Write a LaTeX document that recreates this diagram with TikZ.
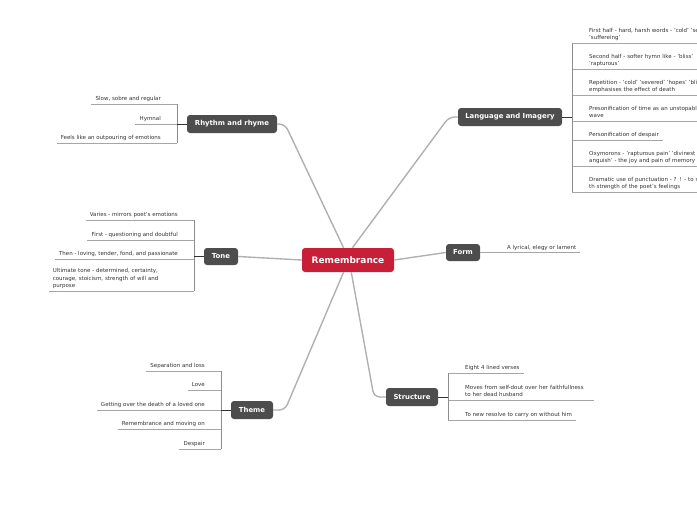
\documentclass[tikz,border=0pt]{standalone}
\usepackage{fontspec}
\setmainfont{DejaVu Sans}
\definecolor{remred}{HTML}{C71F37}
\definecolor{topicgray}{HTML}{4D4D4D}
\definecolor{leaftext}{HTML}{333333}
\definecolor{leafgray}{HTML}{A6A6A6}
\definecolor{brackgray}{HTML}{8C8C8C}
\definecolor{conngray}{HTML}{B0B0B0}
\begin{document}
\begin{tikzpicture}[x=1pt,y=-1pt,
  central/.style={fill=remred, rounded corners=3pt, text=white,
    font=\bfseries\fontsize{9}{10}\selectfont, minimum width=92pt, minimum height=24pt, inner sep=0pt},
  topic/.style={fill=topicgray, rounded corners=3pt, text=white,
    font=\bfseries\fontsize{6.9}{8}\selectfont, minimum height=18pt, inner sep=0pt},
  leaf/.style={text=leaftext, font=\fontsize{5.5}{7.5}\selectfont, inner xsep=4pt, inner ysep=0.9pt,
    execute at begin node=\strut, execute at end node=\strut},
  leafL/.style={leaf, anchor=south east, align=right},
  leafR/.style={leaf, anchor=south west, align=left},
  wide/.style={text width=125pt, align=left},
  wider/.style={text width=170pt, align=left},
  conn/.style={draw=conngray, line width=1.4pt, rounded corners=6pt},
  leafline/.style={draw=leafgray, line width=0.6pt},
  brack/.style={draw=brackgray, line width=0.6pt},
  stub/.style={draw=leaftext, line width=0.8pt}
]
\useasboundingbox (0,0) rectangle (697,520);
\clip (0,0) rectangle (697,520);

% central and topics
\node[central] (c) at (348,260) {Remembrance};
\node[topic, minimum width=90pt] (rr) at (232,124) {Rhythm and rhyme};
\node[topic, minimum width=104pt] (li) at (510,117) {Language and Imagery};
\node[topic, minimum width=34pt, minimum height=17pt] (to) at (221,256.5) {Tone};
\node[topic, minimum width=34pt, minimum height=17pt] (fm) at (463,252.5) {Form};
\node[topic, minimum width=42pt] (th) at (252,410) {Theme};
\node[topic, minimum width=52pt] (st) at (412,397) {Structure};

% main connectors
\draw[conn] (c.110) -- (285,124) -- (rr.east);
\draw[conn] (c.70) -- (449,117) -- (li.west);
\draw[conn] (c.west) -- (to.east);
\draw[conn] (c.east) -- (fm.west);
\draw[conn] (c.250) -- (285,410) -- (th.east);
\draw[conn] (c.285) -- (374,397) -- (st.west);

% ---- Rhythm and rhyme
\coordinate (rrb) at (177,124);
\node[leafL] (rr1) at (165,104) {Slow, sobre and regular};
\node[leafL] (rr2) at (165,124) {Hymnal};
\node[leafL] (rr3) at (165,143) {Feels like an outpouring of emotions};
\foreach \n in {rr1,rr2,rr3} \draw[leafline] (\n.south west) -- (\n.south west -| rrb);
\draw[brack] (rr1.south west -| rrb) -- (rr3.south west -| rrb);
\draw[stub] (rr.west) -- (rrb);

% ---- Tone
\coordinate (tob) at (194,256.5);
\node[leafL] (to1) at (182,220) {Varies - mirrors poet's emotions};
\node[leafL] (to2) at (182,240) {First - questioning and doubtful};
\node[leafL] (to3) at (182,259) {Then - loving, tender, fond, and passionate};
\node[leafL, wide] (to4) at (182,291) {Ultimate tone - determined, certainty,\\courage, stoicism, strength of will and\\purpose};
\foreach \n in {to1,to2,to3,to4} \draw[leafline] (\n.south west) -- (\n.south west -| tob);
\draw[brack] (to1.south west -| tob) -- (to4.south west -| tob);
\draw[stub] (to.west) -- (tob);

% ---- Theme
\coordinate (thb) at (221,410);
\node[leafL] (th1) at (209,371) {Separation and loss};
\node[leafL] (th2) at (209,390) {Love};
\node[leafL] (th3) at (209,410) {Getting over the death of a loved one};
\node[leafL] (th4) at (209,429) {Remembrance and moving on};
\node[leafL] (th5) at (209,449) {Despair};
\foreach \n in {th1,th2,th3,th4,th5} \draw[leafline] (\n.south west) -- (\n.south west -| thb);
\draw[brack] (th1.south west -| thb) -- (th5.south west -| thb);
\draw[stub] (th.west) -- (thb);

% ---- Structure
\coordinate (stb) at (448,397);
\node[leafR] (st1) at (461,373) {Eight 4 lined verses};
\node[leafR, wide] (st2) at (461,400) {Moves from self-dout over her faithfullness\\to her dead husband};
\node[leafR] (st3) at (461,420) {To new resolve to carry on without him};
\foreach \n in {st1,st2,st3} \draw[leafline] (\n.south west -| stb) -- (\n.south east);
\draw[brack] (st1.south west -| stb) -- (st3.south west -| stb);
\draw[stub] (st.east) -- (stb);

% ---- Form
\node[leafR] (fm1) at (503,252.5) {A lyrical, elegy or lament};
\draw[leafline] (fm.east) -- (fm.east -| fm1.south east);

% ---- Language and Imagery
\coordinate (lib) at (572,117);
\node[leafR, wider] (li1) at (585,43) {First half - hard, harsh words - 'cold' 'severed'\\'suffereing'};
\node[leafR, wider] (li2) at (585,69) {Second half - softer hymn like - 'bliss'\\'rapturous'};
\node[leafR, wider] (li3) at (585,95) {Repetition - 'cold' 'severed' 'hopes' 'bliss'\\emphasises the effect of death};
\node[leafR, wider] (li4) at (585,121) {Presonification of time as an unstopable\\wave};
\node[leafR] (li5) at (585,140) {Personification of despair};
\node[leafR, wider] (li6) at (585,166) {Oxymorons - 'rapturous pain' 'divinest\\anguish' - the joy and pain of memory};
\node[leafR, wider] (li7) at (585,192) {Dramatic use of punctuation - ? ! - to show\\th strength of the poet's feelings};
\foreach \n in {li1,li2,li3,li4,li5,li6,li7} \draw[leafline] (\n.south west -| lib) -- (\n.south east);
\draw[brack] (li1.south west -| lib) -- (li7.south west -| lib);
\draw[stub] (li.east) -- (lib);
\end{tikzpicture}
\end{document}
